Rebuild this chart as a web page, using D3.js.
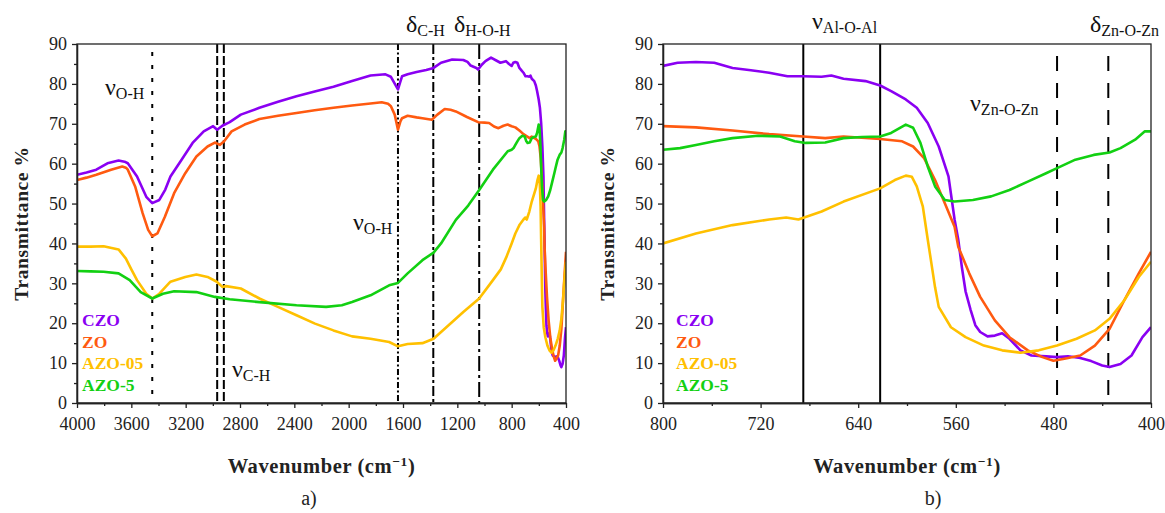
<!DOCTYPE html>
<html>
<head>
<meta charset="utf-8">
<script src="https://cdn.jsdelivr.net/npm/d3@7"></script>
<style>
  html, body { margin: 0; padding: 0; background: #fff; }
  svg { display: block; }
</style>
</head>
<body>
<svg id="chart" width="1165" height="513"></svg>
<script>
// ---------------- DATA ----------------
const seriesNames = ["CZO", "ZO", "AZO-05", "AZO-5"];
const seriesColors = ["#8a00f2", "#ff5a10", "#ffc000", "#12d012"];

// 4000–800 cm-1
const czoHigh = [[4000,57.2],[3930,57.8],[3858,58.5],[3776,60.1],[3694,60.8],[3650,60.5],[3626,60.1],[3558,56.8],[3490,51.7],[3446,50.1],[3394,50.9],[3350,53.5],[3312,56.8],[3230,61],[3149,65.2],[3067,68.1],[2998,69.4],[2968,68.5],[2930,69.5],[2876,70.4],[2794,72.3],[2657,74],[2520,75.5],[2384,76.9],[2250,78.1],[2112,79.3],[1975,80.7],[1839,82.1],[1729,82.4],[1690,81.8],[1660,80],[1637,78.6],[1620,80.5],[1607,81.9],[1566,82.4],[1500,83],[1429,83.5],[1375,84],[1320,85.3],[1238,86.1],[1156,86],[1125,85.5],[1102,84.6],[1060,84],[1047,83.6],[1020,84.8],[993,85.7],[952,86.6],[910,85.8],[883,85.3],[842,85.7],[820,85]];
const zoHigh = [[4000,55.9],[3930,56.5],[3858,57.2],[3749,58.5],[3667,59.3],[3640,59],[3626,58.5],[3572,54.3],[3517,47.6],[3476,43.4],[3446,41.8],[3408,42.5],[3353,46.7],[3285,52.6],[3203,57.6],[3121,61.8],[3039,64.3],[2985,65.3],[2949,64.7],[2917,65.6],[2862,68.1],[2766,69.8],[2657,71.2],[2520,72],[2384,72.7],[2250,73.4],[2112,74],[1975,74.6],[1839,75.1],[1757,75.4],[1710,75],[1689,74.4],[1661,72.3],[1637,68.5],[1620,70.5],[1607,71.4],[1566,72],[1500,71.6],[1457,71.4],[1388,71],[1347,72.3],[1293,73.7],[1250,73.5],[1211,73.1],[1129,71.7],[1047,70.4],[1000,70.3],[966,70.2],[930,69.3],[897,68.9],[860,69.5],[830,69.8]];
const azo05High = [[4000,39.2],[3900,39.2],[3804,39.3],[3694,38.5],[3640,36.2],[3600,33.5],[3558,30.8],[3490,27.4],[3446,26.2],[3394,27.4],[3312,30.4],[3203,31.6],[3121,32.2],[3039,31.6],[2971,30.4],[2930,29.1],[2903,29.3],[2794,28.7],[2657,26.2],[2521,24.1],[2384,22],[2248,19.9],[2112,18.2],[1975,16.7],[1839,16.1],[1702,15.3],[1637,14.2],[1566,14.8],[1457,15],[1375,16.1],[1293,18.6],[1156,22.8],[1039,26.2],[938,30.8],[880,33.5],[840,36.5]];
const azo5High = [[4000,33.1],[3900,33],[3804,32.9],[3694,32.5],[3612,30.8],[3531,27.8],[3446,26.2],[3367,27.4],[3285,28],[3121,27.8],[2985,26.6],[2876,26],[2657,25.3],[2384,24.5],[2166,24.1],[2050,24.5],[1975,25.3],[1839,27],[1702,29.5],[1637,30.1],[1566,32.5],[1457,35.8],[1375,37.7],[1320,40],[1211,45.9],[1120,49.5],[1039,53.4],[938,58.5],[829,63.1]];

// 800–400 cm-1
const czoLow = [[800,84.5],[788,85.3],[773,85.5],[758,85.3],[743,84],[728,83.4],[713,82.8],[698,81.9],[685,81.9],[670,81.8],[662,82.1],[652,81.3],[634,80.7],[622,79.6],[613,78.2],[601,76.1],[592,74],[583,70.2],[574,64.3],[566,56.8],[561,46],[558,41],[555,34],[552,28],[548,23.5],[544,19.5],[540,17.8],[534,16.7],[528,16.9],[522,17.5],[516,16.1],[507,13.2],[498,11.9],[486,11.7],[477,11.5],[468,11.7],[458,11.3],[449,10.5],[440,9.4],[434,9],[425,9.8],[416,11.9],[407,16.5],[400,19]];
const zoLow = [[800,69.4],[773,69.1],[743,68.3],[713,67.4],[685,66.8],[667,66.4],[652,66.8],[622,66.2],[604,65.6],[595,64.3],[586,61.4],[577,55.9],[569,50.1],[561,44.2],[558,39.2],[549,32.5],[540,26.6],[528,20.7],[516,16.5],[501,13.2],[489,11.5],[480,10.6],[471,11.1],[458,11.9],[446,14.4],[434,18.6],[422,25.7],[410,32.5],[400,37.9]];
const azo05Low = [[800,40],[773,42.5],[743,44.6],[713,46],[699,46.5],[689,46],[670,48],[652,50.5],[622,53.8],[610,55.9],[601,57],[596,56.7],[592,54.3],[587,49.2],[583,41],[580,35],[577,29],[574,24.1],[564,19],[552,16.5],[537,14.4],[522,13.2],[507,12.6],[492,13.2],[477,14.4],[461,16.1],[446,18.2],[434,21.1],[422,25.7],[410,31.6],[400,35.4]];
const azo5Low = [[800,63.5],[786,63.9],[773,64.7],[758,65.6],[743,66.4],[722,67],[704,66.8],[692,65.6],[683,65.2],[667,65.3],[652,66.4],[637,66.7],[622,66.8],[613,67.7],[601,69.8],[595,69],[589,65.2],[583,59.3],[577,54.3],[569,50.9],[561,50.5],[546,50.9],[531,51.8],[516,53.4],[501,55.5],[486,57.6],[477,58.9],[462,61],[447,62.2],[434,62.8],[425,63.9],[413,66],[405,68.1],[400,68.1]];

// tick values
const yTicks = [0,10,20,30,40,50,60,70,80,90];
const yMinor = [5,15,25,35,45,55,65,75,85];
const xTicksA = [4000,3600,3200,2800,2400,2000,1600,1200,800,400];
const xMinorA = [3800,3400,3000,2600,2200,1800,1400,1000,600];
const xTicksB = [800,720,640,560,480,400];
const xMinorB = [760,680,600,520,440];

// reference band positions (cm-1)
const bandsA = [3446, 2968, 2919, 1637, 1377, 1039];
const bandsB = [685, 622, 477, 435];

// ---------------- DRAW ----------------
const FONT = "'Liberation Serif', 'Times New Roman', serif";
const svg = d3.select("#chart");
svg.append("rect").attr("width",1165).attr("height",513).attr("fill","#fff");

const yTop = 44, yBot = 403;
const y = d3.scaleLinear().domain([0,90]).range([yBot, yTop]);

function panel(cfg) {
  const x = d3.scaleLinear().domain(cfg.domain).range(cfg.range);
  const g = svg.append("g");
  const clipId = "clip" + cfg.id;
  svg.append("clipPath").attr("id", clipId).append("rect")
    .attr("x", cfg.range[0]).attr("y", yTop).attr("width", cfg.range[1]-cfg.range[0]).attr("height", yBot-yTop);

  // reference lines
  cfg.bands.forEach((b, i) => {
    g.append("line")
      .attr("x1", x(b)).attr("x2", x(b))
      .attr("y1", y(cfg.bandTop[i])).attr("y2", y(0))
      .attr("stroke", "#000").attr("stroke-width", 2)
      .attr("stroke-dasharray", cfg.bandDash[i]);
  });

  // curves
  const line = d3.line().x(d => x(d[0])).y(d => y(d[1]));
  const cg = g.append("g").attr("clip-path", `url(#${clipId})`);
  cfg.series.forEach((s, i) => {
    cg.append("path").datum(s)
      .attr("d", line).attr("fill", "none")
      .attr("stroke", seriesColors[i]).attr("stroke-width", 2.6)
      .attr("stroke-linejoin", "round");
  });

  // frame
  g.append("rect").attr("x", cfg.range[0]).attr("y", yTop)
    .attr("width", cfg.range[1]-cfg.range[0]).attr("height", yBot-yTop)
    .attr("fill","none").attr("stroke","#222").attr("stroke-width",1.3);

  // axes
  const xa = g.append("g").attr("transform", `translate(0,${yBot})`)
    .call(d3.axisBottom(x).tickValues(cfg.ticks).tickSize(5).tickSizeOuter(0).tickPadding(9).tickFormat(d3.format("d")));
  const xm = g.append("g").attr("transform", `translate(0,${yBot})`)
    .call(d3.axisBottom(x).tickValues(cfg.minor).tickSize(3).tickSizeOuter(0).tickFormat(""));
  const ya = g.append("g").attr("transform", `translate(${cfg.range[0]},0)`)
    .call(d3.axisLeft(y).tickValues(yTicks).tickSize(5).tickSizeOuter(0).tickPadding(5));
  const ym = g.append("g").attr("transform", `translate(${cfg.range[0]},0)`)
    .call(d3.axisLeft(y).tickValues(yMinor).tickSize(3).tickSizeOuter(0).tickFormat(""));
  [xa, xm, ya, ym].forEach(a => {
    a.select(".domain").attr("stroke","#222").attr("stroke-width",1.3);
    a.selectAll(".tick line").attr("stroke","#222").attr("stroke-width",1.3);
    a.selectAll("text").attr("font-family", FONT).attr("font-size", 18).attr("fill", "#222");
  });

  // legend
  seriesNames.forEach((n, i) => {
    g.append("text").attr("x", cfg.legendX).attr("y", 326 + i*21.5)
      .attr("font-family", FONT).attr("font-size", 17.5).attr("font-weight", "bold")
      .attr("fill", seriesColors[i]).text(n);
  });

  // axis titles
  const cx = (cfg.range[0]+cfg.range[1])/2;
  const xt = g.append("text").attr("x", cx).attr("y", 473).attr("text-anchor","middle")
    .attr("font-family", FONT).attr("font-size", 20.5).attr("font-weight","bold").attr("fill","#222")
    .attr("letter-spacing", 0.6);
  xt.append("tspan").text("Wavenumber (cm");
  xt.append("tspan").text("\u22121").attr("font-size", 13.5).attr("dy", -7);
  xt.append("tspan").text(")").attr("dy", 7);

  g.append("text")
    .attr("transform", `translate(${cfg.ytitleX},${(yTop+yBot)/2}) rotate(-90)`)
    .attr("text-anchor","middle")
    .attr("font-family", FONT).attr("font-size", 19.5).attr("font-weight","bold").attr("fill","#222")
    .attr("letter-spacing", 0.6)
    .text("Transmittance %");

  g.append("text").attr("x", cfg.tagX).attr("y", 505).attr("text-anchor","middle")
    .attr("font-family", FONT).attr("font-size", 20).attr("fill","#222").text(cfg.tag);

  // band labels
  cfg.labels.forEach(l => {
    const t = g.append("text").attr("x", l.x).attr("y", l.y)
      .attr("font-family", FONT).attr("fill", "#111");
    t.append("tspan").text(l.main).attr("font-size", 24);
    t.append("tspan").text(l.sub).attr("font-size", 16).attr("dy", 4);
  });
}

panel({
  id: "a", domain: [4000, 400], range: [77, 566],
  ticks: xTicksA, minor: xMinorA,
  series: [czoHigh.concat(czoLow), zoHigh.concat(zoLow), azo05High.concat(azo05Low), azo5High.concat(azo5Low)],
  bands: bandsA,
  bandTop: [88, 90, 90, 90, 90, 90],
  bandDash: ["4,9", "9,3", "9,3", "6,2.5,2,2.5", "10,3,3,3", "15,4,3,4"],
  legendX: 82, ytitleX: 28, tag: "a)", tagX: 309,
  labels: [
    {x: 105, y: 95, main: "\u03bd", sub: "O-H"},
    {x: 353, y: 230, main: "\u03bd", sub: "O-H"},
    {x: 406, y: 32, main: "\u03b4", sub: "C-H"},
    {x: 454, y: 32, main: "\u03b4", sub: "H-O-H"},
    {x: 232, y: 377, main: "\u03bd", sub: "C-H"}
  ]
});

panel({
  id: "b", domain: [800, 400], range: [663, 1151],
  ticks: xTicksB, minor: xMinorB,
  series: [czoLow, zoLow, azo05Low, azo5Low],
  bands: bandsB,
  bandTop: [90, 90, 87, 87],
  bandDash: [null, null, "15,12", "15,12"],
  legendX: 676, ytitleX: 614, tag: "b)", tagX: 933,
  labels: [
    {x: 812, y: 29, main: "\u03bd", sub: "Al-O-Al"},
    {x: 1090, y: 32, main: "\u03b4", sub: "Zn-O-Zn"},
    {x: 970, y: 111, main: "\u03bd", sub: "Zn-O-Zn"}
  ]
});
</script>
</body>
</html>
